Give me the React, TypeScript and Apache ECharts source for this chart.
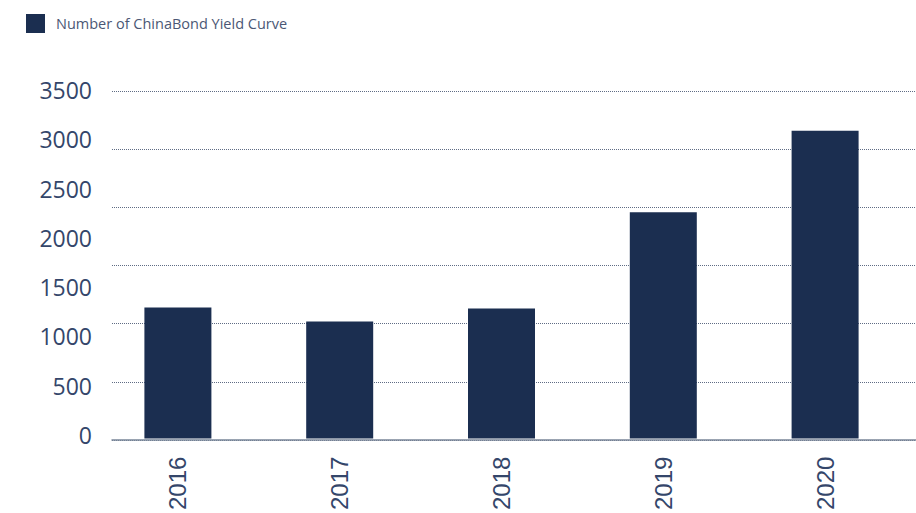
import React, { useEffect, useRef } from "react";
import * as echarts from "echarts";

const years = ["2016", "2017", "2018", "2019", "2020"];
const curveCounts = [1320, 1180, 1310, 2280, 3100];
const seriesName = "Number of ChinaBond Yield Curve";

export default function App() {
  const ref = useRef<HTMLDivElement>(null);

  useEffect(() => {
    if (!ref.current) return;
    const chart = echarts.init(ref.current, undefined, { renderer: "svg" });
    chart.setOption({
      animation: false,
      backgroundColor: "#ffffff",
      legend: {
        left: 26,
        top: 14,
        padding: 0,
        itemWidth: 19,
        itemHeight: 19,
        icon: "rect",
        data: [seriesName],
        textStyle: {
          fontFamily: "Open Sans",
          fontSize: 14.5,
          color: "#4b5775",
          padding: [0, 0, 0, 6],
        },
      },
      grid: [
        { left: 97, right: 10, top: 91, bottom: 73 },
        { left: 112, right: 0, top: 91, bottom: 73 },
        { left: 100, right: 0, top: 90, bottom: 78 },
      ],
      xAxis: [
        {
          gridIndex: 0,
          type: "category",
          data: years,
          axisLine: { show: false },
          axisTick: { show: false },
          axisLabel: {
            rotate: 90,
            margin: 18,
            fontFamily: "Liberation Sans",
            fontSize: 24,
            color: "#34466a",
          },
        },
        {
          gridIndex: 1,
          type: "value",
          min: 0,
          max: 1,
          axisLine: { show: true, lineStyle: { color: "#7a8699", width: 1.5 } },
          axisTick: { show: false },
          axisLabel: { show: false },
          splitLine: { show: false },
        },
        {
          gridIndex: 2,
          type: "value",
          show: false,
        },
      ],
      yAxis: [
        {
          gridIndex: 0,
          type: "value",
          min: 0,
          max: 3500,
          interval: 500,
          show: false,
          splitLine: { show: false },
        },
        {
          gridIndex: 1,
          type: "value",
          min: 0,
          max: 3000,
          interval: 500,
          axisLine: { show: false },
          axisTick: { show: false },
          axisLabel: { show: false },
          splitLine: {
            show: true,
            lineStyle: { color: "#5f6c84", width: 1, type: [1, 1] },
          },
        },
        {
          gridIndex: 2,
          type: "value",
          min: 0,
          max: 3500,
          interval: 500,
          axisLine: { show: false },
          axisTick: { show: false },
          splitLine: { show: false },
          axisLabel: {
            margin: 8,
            fontFamily: "Open Sans",
            fontSize: 23,
            color: "#34466a",
            formatter: (v: number) => String(v),
          },
        },
      ],
      series: [
        {
          name: seriesName,
          type: "bar",
          xAxisIndex: 0,
          yAxisIndex: 0,
          data: curveCounts,
          barWidth: 67,
          itemStyle: { color: "#1b2e50" },
        },
      ],
    });
    return () => chart.dispose();
  }, []);

  return (
    <div
      ref={ref}
      style={{ position: "fixed", left: 0, top: 0, width: 916, height: 513 }}
    />
  );
}
